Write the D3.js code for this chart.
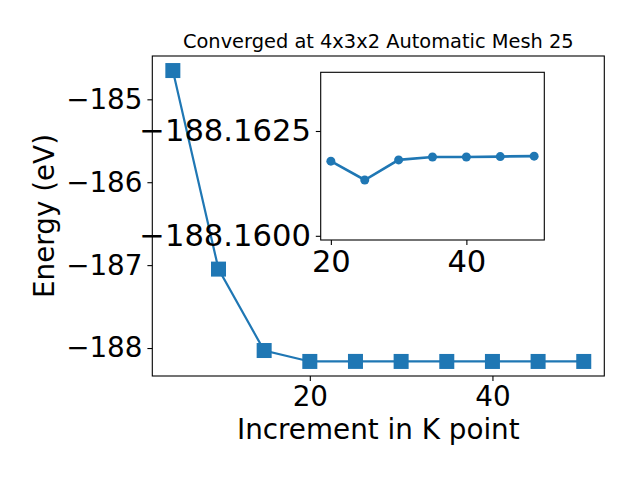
<!DOCTYPE html>
<html>
<head>
<meta charset="utf-8">
<script src="https://cdn.jsdelivr.net/npm/d3@7"></script>
<style>
  body { margin: 0; background: #fff; }
  svg text { font-family: "DejaVu Sans", sans-serif; fill: #000; }
</style>
</head>
<body>
<svg id="chart" width="640" height="480"></svg>
<script>
// k point increments and total energies (eV)
var kPoints = [5, 10, 15, 20, 25, 30, 35, 40, 45, 50];
var energies = [-184.653, -187.048, -188.030, -188.16178, -188.16133,
                -188.16181, -188.16188, -188.16188, -188.16189, -188.16190];

// zoomed part shown in the inset (from 20 onwards)
var insetK = [20, 25, 30, 35, 40, 45, 50];
var insetEnergies = [-188.16178, -188.16133, -188.16181, -188.16188,
                     -188.16188, -188.16189, -188.16190];

// tick labels
var mainXTicks = [20, 40];
var mainYTicks = [-185, -186, -187, -188];
var insetXTicks = [20, 40];
var insetYTicks = [-188.1625, -188.1600];
var insetYLimits = [-188.1599, -188.1639];

var blue = "#1f77b4";
var svg = d3.select("#chart");

// main axes box
var main = {left: 152.3, right: 604.3, top: 56, bottom: 376};
// inset axes box
var inset = {left: 320.7, right: 544.3, top: 72.3, bottom: 240};

function padded(ext) {
    var pad = (ext[1] - ext[0]) * 0.05;
    return [ext[0] - pad, ext[1] + pad];
}

var x = d3.scaleLinear()
    .domain(padded(d3.extent(kPoints)))
    .range([main.left, main.right]);

var y = d3.scaleLinear()
    .domain(padded(d3.extent(energies)))
    .range([main.bottom, main.top]);

var xi = d3.scaleLinear()
    .domain(padded(d3.extent(insetK)))
    .range([inset.left, inset.right]);

var yi = d3.scaleLinear()
    .domain(insetYLimits)
    .range([inset.bottom, inset.top]);

// draw one axis with matplotlib-like ticks
function drawAxis(g, axis, fontSize) {
    g.call(axis);
    g.select(".domain").remove();
    g.selectAll(".tick line").attr("stroke", "#000").attr("stroke-width", 1.1);
    g.selectAll(".tick text")
        .attr("font-size", fontSize)
        .attr("font-family", "DejaVu Sans");
}

// ----- main plot -----
var line = d3.line()
    .x(function(d, i) { return x(kPoints[i]); })
    .y(function(d) { return y(d); });

svg.append("path")
    .datum(energies)
    .attr("d", line)
    .attr("fill", "none")
    .attr("stroke", blue)
    .attr("stroke-width", 2.2);

svg.selectAll("rect.marker")
    .data(energies)
    .enter()
    .append("rect")
    .attr("class", "marker")
    .attr("x", function(d, i) { return x(kPoints[i]) - 7.5; })
    .attr("y", function(d) { return y(d) - 7.5; })
    .attr("width", 15)
    .attr("height", 15)
    .attr("fill", blue);

drawAxis(svg.append("g")
        .attr("transform", "translate(0," + main.bottom + ")"),
    d3.axisBottom(x).tickValues(mainXTicks).tickFormat(d3.format("d"))
        .tickSizeInner(4.9).tickPadding(4.9),
    "27.8px");

drawAxis(svg.append("g")
        .attr("transform", "translate(" + main.left + ",0)"),
    d3.axisLeft(y).tickValues(mainYTicks).tickFormat(d3.format("d"))
        .tickSizeInner(4.9).tickPadding(4.9),
    "27.8px");

svg.append("rect")
    .attr("x", main.left)
    .attr("y", main.top)
    .attr("width", main.right - main.left)
    .attr("height", main.bottom - main.top)
    .attr("fill", "none")
    .attr("stroke", "#000")
    .attr("stroke-width", 1.1);

// title and axis labels
svg.append("text")
    .attr("x", (main.left + main.right) / 2)
    .attr("y", 47.5)
    .attr("text-anchor", "middle")
    .attr("font-size", "19.4px")
    .text("Converged at 4x3x2 Automatic Mesh 25");

svg.append("text")
    .attr("x", (main.left + main.right) / 2)
    .attr("y", 438.5)
    .attr("text-anchor", "middle")
    .attr("font-size", "27.8px")
    .text("Increment in K point");

svg.append("text")
    .attr("transform", "translate(53.5," + (main.top + main.bottom) / 2 + ") rotate(-90)")
    .attr("text-anchor", "middle")
    .attr("font-size", "27.8px")
    .text("Energy (eV)");

// ----- inset -----
svg.append("rect")
    .attr("x", inset.left)
    .attr("y", inset.top)
    .attr("width", inset.right - inset.left)
    .attr("height", inset.bottom - inset.top)
    .attr("fill", "#fff");

var insetLine = d3.line()
    .x(function(d, i) { return xi(insetK[i]); })
    .y(function(d) { return yi(d); });

svg.append("path")
    .datum(insetEnergies)
    .attr("d", insetLine)
    .attr("fill", "none")
    .attr("stroke", blue)
    .attr("stroke-width", 2.7);

svg.selectAll("circle.inset")
    .data(insetEnergies)
    .enter()
    .append("circle")
    .attr("class", "inset")
    .attr("cx", function(d, i) { return xi(insetK[i]); })
    .attr("cy", function(d) { return yi(d); })
    .attr("r", 4.5)
    .attr("fill", blue);

drawAxis(svg.append("g")
        .attr("transform", "translate(0," + inset.bottom + ")"),
    d3.axisBottom(xi).tickValues(insetXTicks).tickFormat(d3.format("d"))
        .tickSizeInner(4.9).tickPadding(4.9),
    "30.6px");

drawAxis(svg.append("g")
        .attr("transform", "translate(" + inset.left + ",0)"),
    d3.axisLeft(yi).tickValues(insetYTicks).tickFormat(d3.format(".4f"))
        .tickSizeInner(4.9).tickPadding(4.9),
    "30.6px");

svg.append("rect")
    .attr("x", inset.left)
    .attr("y", inset.top)
    .attr("width", inset.right - inset.left)
    .attr("height", inset.bottom - inset.top)
    .attr("fill", "none")
    .attr("stroke", "#000")
    .attr("stroke-width", 1.1);
</script>
</body>
</html>
